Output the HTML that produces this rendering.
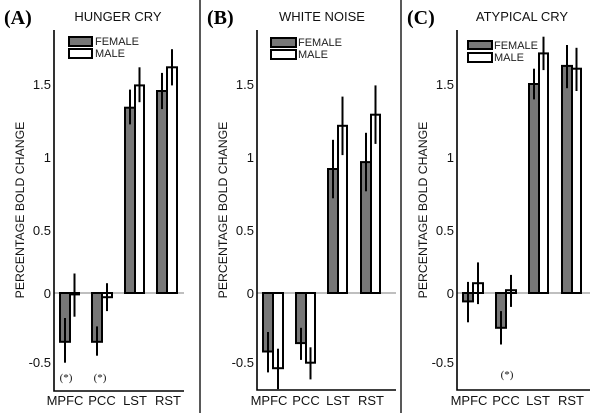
<!DOCTYPE html>
<html><head><meta charset="utf-8"><style>
html,body{margin:0;padding:0;background:#fff;}
svg{display:block;font-family:"Liberation Sans",sans-serif;}
.t{font-size:13px;fill:#111}
.yl{font-size:12.3px;fill:#111}
.f{fill:#777;stroke:#000;stroke-width:2}
.m{fill:#fff;stroke:#000;stroke-width:2}
.e{stroke:#000;stroke-width:2}
.ax{stroke:#000;stroke-width:1.6;fill:none}
.z{stroke:#555;stroke-width:0.8}
.pl{font-family:"Liberation Serif",serif;font-weight:bold;font-size:20px;fill:#000}
.ti{font-size:13px;fill:#111}
.lg{font-size:11px;fill:#222}
.st{font-family:"Liberation Serif",serif;font-size:11px;fill:#111}
</style></head><body>
<svg width="600" height="413" viewBox="0 0 600 413">
<rect width="600" height="413" fill="#fff"/>
<line x1="200" y1="0" x2="200" y2="413" stroke="#222" stroke-width="1.5"/>
<line x1="401" y1="0" x2="401" y2="413" stroke="#222" stroke-width="1.5"/>

<!-- Panel A -->
<g>
<text class="pl" x="4" y="24">(A)</text>
<text class="ti" x="118" y="21" text-anchor="middle">HUNGER CRY</text>
<line class="z" x1="54" y1="293" x2="184" y2="293"/>
<polyline class="ax" points="54,30 54,391 184,391"/>
<g class="t" text-anchor="end">
<text x="51" y="89">1.5</text><text x="51" y="162">1</text><text x="51" y="235">0.5</text><text x="51" y="298">0</text><text x="51" y="367">-0.5</text>
</g>
<text class="yl" transform="translate(24,210) rotate(-90)" text-anchor="middle">PERCENTAGE BOLD CHANGE</text>
<rect class="f" x="69" y="37" width="23" height="9"/><text class="lg" x="95" y="45">FEMALE</text>
<rect class="m" x="69" y="49" width="23" height="9"/><text class="lg" x="95" y="57">MALE</text>
<rect class="f" x="60" y="293" width="10" height="48.8"/><line class="e" x1="65" y1="318" x2="65" y2="362.7"/>
<rect class="m" x="70" y="293" width="9" height="1.4"/><line class="e" x1="74.5" y1="273.5" x2="74.5" y2="316.7"/>
<rect class="f" x="92" y="293" width="10" height="48.8"/><line class="e" x1="97" y1="326.4" x2="97" y2="355.7"/>
<rect class="m" x="102" y="293" width="10" height="4.2"/><line class="e" x1="107" y1="283.2" x2="107" y2="311.1"/>
<rect class="f" x="125" y="107.7" width="10" height="185.3"/><line class="e" x1="130" y1="89.6" x2="130" y2="124.4"/>
<rect class="m" x="135" y="85.4" width="9" height="207.6"/><line class="e" x1="139.5" y1="67.3" x2="139.5" y2="102.2"/>
<rect class="f" x="157" y="91" width="10" height="202"/><line class="e" x1="162" y1="72.9" x2="162" y2="109.1"/>
<rect class="m" x="167" y="67.3" width="10" height="225.7"/><line class="e" x1="172" y1="49.2" x2="172" y2="85.4"/>
<text class="st" x="66" y="381" text-anchor="middle">(*)</text>
<text class="st" x="100" y="381" text-anchor="middle">(*)</text>
<g class="t" text-anchor="middle"><text x="65" y="405">MPFC</text><text x="102" y="405">PCC</text><text x="135" y="405">LST</text><text x="168" y="405">RST</text></g>
</g>

<!-- Panel B -->
<g>
<text class="pl" x="207" y="24">(B)</text>
<text class="ti" x="322" y="21" text-anchor="middle">WHITE NOISE</text>
<line class="z" x1="257" y1="293" x2="396" y2="293"/>
<polyline class="ax" points="257,30 257,390 396,390"/>
<g class="t" text-anchor="end">
<text x="254" y="89">1.5</text><text x="254" y="162">1</text><text x="254" y="235">0.5</text><text x="254" y="298">0</text><text x="254" y="367">-0.5</text>
</g>
<text class="yl" transform="translate(227,210) rotate(-90)" text-anchor="middle">PERCENTAGE BOLD CHANGE</text>
<rect class="f" x="271" y="38" width="25" height="9"/><text class="lg" x="298" y="46">FEMALE</text>
<rect class="m" x="271" y="50" width="25" height="9"/><text class="lg" x="298" y="58">MALE</text>
<rect class="f" x="263" y="293" width="10" height="58.5"/><line class="e" x1="268" y1="332" x2="268" y2="372.4"/>
<rect class="m" x="273" y="293" width="10" height="75.2"/><line class="e" x1="278" y1="348.7" x2="278" y2="389.1"/>
<rect class="f" x="296" y="293" width="10" height="50.1"/><line class="e" x1="301" y1="327.8" x2="301" y2="359.9"/>
<rect class="m" x="306" y="293" width="9" height="69.7"/><line class="e" x1="310.5" y1="347.3" x2="310.5" y2="379.4"/>
<rect class="f" x="328" y="169" width="10" height="124"/><line class="e" x1="333" y1="139.8" x2="333" y2="198.3"/>
<rect class="m" x="338" y="125.8" width="9" height="167.2"/><line class="e" x1="342.5" y1="96.6" x2="342.5" y2="155.1"/>
<rect class="f" x="361" y="162.1" width="10" height="130.9"/><line class="e" x1="366" y1="132.8" x2="366" y2="191.3"/>
<rect class="m" x="371" y="114.7" width="9" height="178.3"/><line class="e" x1="375.5" y1="85.4" x2="375.5" y2="143.9"/>
<g class="t" text-anchor="middle"><text x="269" y="405">MPFC</text><text x="306" y="405">PCC</text><text x="338" y="405">LST</text><text x="371" y="405">RST</text></g>
</g>

<!-- Panel C -->
<g>
<text class="pl" x="407" y="24">(C)</text>
<text class="ti" x="522" y="21" text-anchor="middle">ATYPICAL CRY</text>
<line class="z" x1="457" y1="293" x2="590" y2="293"/>
<polyline class="ax" points="457,30 457,390 590,390"/>
<g class="t" text-anchor="end">
<text x="454" y="89">1.5</text><text x="454" y="162">1</text><text x="454" y="235">0.5</text><text x="454" y="298">0</text><text x="454" y="367">-0.5</text>
</g>
<text class="yl" transform="translate(427,210) rotate(-90)" text-anchor="middle">PERCENTAGE BOLD CHANGE</text>
<rect class="f" x="468" y="41" width="24" height="8"/><text class="lg" x="494" y="49">FEMALE</text>
<rect class="m" x="468" y="53" width="24" height="9"/><text class="lg" x="494" y="61">MALE</text>
<rect class="f" x="463" y="293" width="10" height="8.4"/><line class="e" x1="468" y1="281.9" x2="468" y2="322.3"/>
<rect class="m" x="473" y="283.2" width="10" height="9.8"/><line class="e" x1="478" y1="262.4" x2="478" y2="304.1"/>
<rect class="f" x="496" y="293" width="10" height="34.8"/><line class="e" x1="501" y1="311.1" x2="501" y2="344.5"/>
<rect class="m" x="506" y="290.2" width="10" height="2.8"/><line class="e" x1="511" y1="274.9" x2="511" y2="306.9"/>
<rect class="f" x="529" y="84" width="10" height="209"/><line class="e" x1="534" y1="68.7" x2="534" y2="99.4"/>
<rect class="m" x="539" y="53.4" width="9" height="239.6"/><line class="e" x1="543.5" y1="36.7" x2="543.5" y2="70.1"/>
<rect class="f" x="562" y="65.9" width="10" height="227.1"/><line class="e" x1="567" y1="45" x2="567" y2="88.2"/>
<rect class="m" x="572" y="68.7" width="9" height="224.3"/><line class="e" x1="576.5" y1="47.8" x2="576.5" y2="91"/>
<text class="st" x="507" y="378" text-anchor="middle">(*)</text>
<g class="t" text-anchor="middle"><text x="469" y="405">MPFC</text><text x="506" y="405">PCC</text><text x="538" y="405">LST</text><text x="571" y="405">RST</text></g>
</g>
</svg>
</body></html>
